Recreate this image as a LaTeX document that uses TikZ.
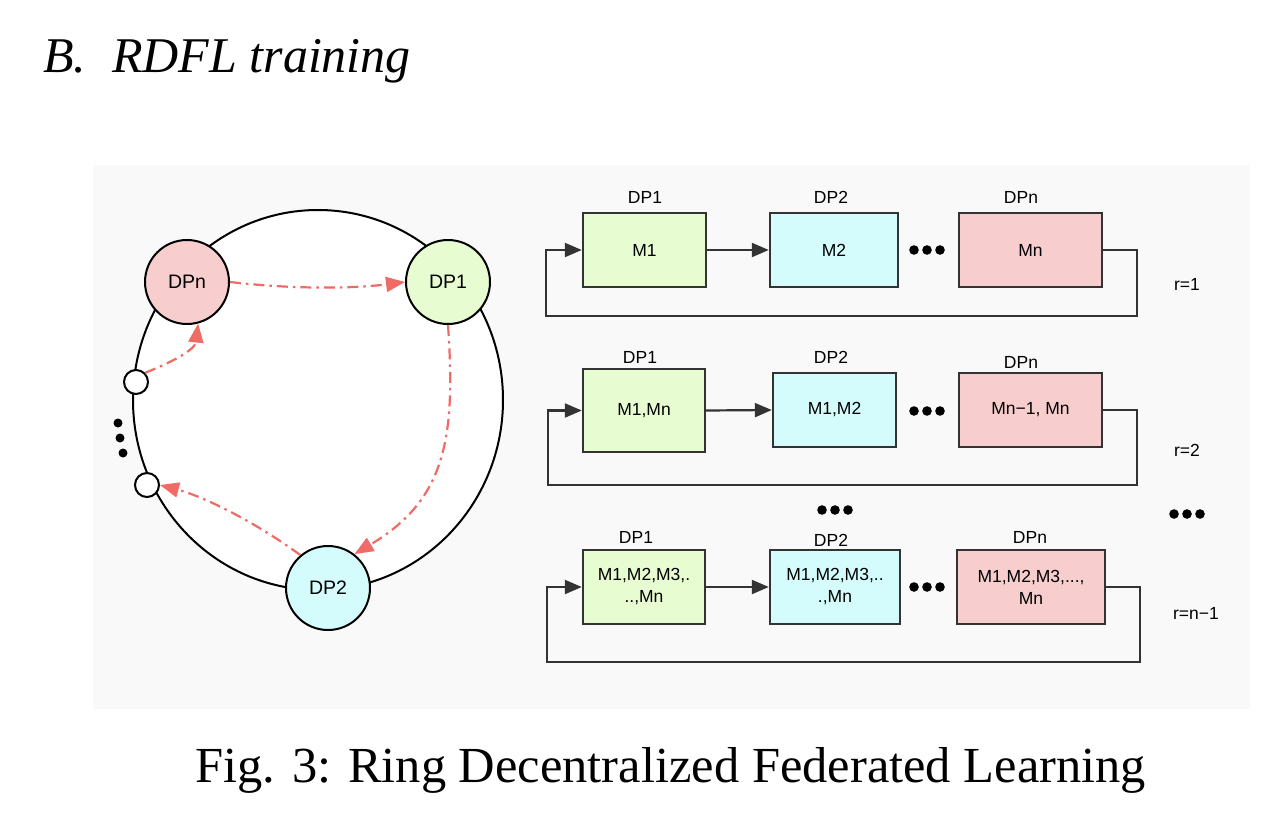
\documentclass[tikz,border=0pt]{standalone}
\usepackage{fontspec}
\setmainfont{Liberation Serif}
\newfontfamily\dsans{Liberation Sans}
\usetikzlibrary{arrows.meta}
\definecolor{panel}{HTML}{F9F9F9}
\definecolor{gfill}{HTML}{E8FCD2}
\definecolor{cfill}{HTML}{D5FCFC}
\definecolor{pfill}{HTML}{F7CDCD}
\definecolor{edge}{HTML}{333333}
\definecolor{redarr}{HTML}{EE6B66}
\begin{document}
\begin{tikzpicture}[x=1pt,y=-1pt,
  ringnode/.style={circle, draw=black, line width=2pt, minimum size=84pt, inner sep=0pt,
    font=\dsans\fontsize{19.5}{22}\selectfont},
  smallnode/.style={circle, draw=black, line width=2pt, minimum size=24pt, inner sep=0pt, fill=white},
  redflow/.style={draw=redarr, line width=2.2pt, dash pattern=on 11pt off 5pt on 2.5pt off 5pt,
    -{Triangle[length=19pt,width=15pt,fill=redarr]}},
  mbox/.style={rectangle, draw=edge, line width=2.4pt, inner sep=0pt, align=center,
    font=\dsans\fontsize{17.5}{22}\selectfont, minimum height=74pt},
  lbl/.style={font=\dsans\fontsize{17.5}{20}\selectfont, inner sep=0pt},
  conn/.style={draw=edge, line width=2.2pt, -{Triangle[length=17pt,width=14pt]}},
  dotfill/.style={fill=black}
]
\useasboundingbox (0,0) rectangle (1288,827);
\fill[panel] (93,165) rectangle (1250,709);

% title and caption
\node[anchor=base west, inner sep=0pt, font=\fontsize{50}{60}\selectfont\itshape] (ttla) at (43,72) {B.};
\node[anchor=base west, inner sep=0pt, font=\fontsize{50}{60}\selectfont\itshape] (ttlb) at (112,72) {RDFL training};
\node[anchor=base west, inner sep=0pt, font=\fontsize{50.5}{60}\selectfont] (cap) at (195,782) {Fig. 3: Ring Decentralized Federated Learning};

% ring
\draw[line width=2pt, fill=white] (318,400) ellipse [x radius=185pt, y radius=190pt];
\node[ringnode, fill=pfill] (pn) at (187,282) {DPn};
\node[ringnode, fill=gfill] (p1) at (448,282) {DP1};
\node[ringnode, fill=cfill] (p2) at (328,588) {DP2};
\node[smallnode] (s1) at (136,382) {};
\node[smallnode] (s2) at (147,485) {};
\fill[dotfill] (118,423) circle[radius=4.5pt];
\fill[dotfill] (120,438) circle[radius=4.5pt];
\fill[dotfill] (123,453) circle[radius=4.5pt];

\draw[redflow] (pn.east) .. controls (290,289) and (350,289) .. (p1.west);
\draw[redflow] (p1.south) .. controls (456,440) and (445,500) .. (p2.52);
\draw[redflow] (p2.130) .. controls (255,522) and (205,497) .. (s2.east);
\draw[redflow] (s1.north east) .. controls (172,362) and (195,350) .. (pn.285);

% row 1
\node[mbox, fill=gfill, minimum width=123pt] (a1) at (644.5,250) {M1};
\node[mbox, fill=cfill, minimum width=128pt] (b1) at (834,250) {M2};
\node[mbox, fill=pfill, minimum width=143pt] (c1) at (1030.5,250) {Mn};
\node[lbl] (la1) at (645,197) {DP1};
\node[lbl] (lb1) at (831,197) {DP2};
\node[lbl] (lc1) at (1021,197) {DPn};
\node[lbl] (r1) at (1187,284) {r=1};
\draw[conn] (a1.east) -- (b1.west);
\coordinate (r1R) at (1137,316);
\coordinate (r1L) at (546,316);
\draw[conn] (c1.east) -| (r1R) -- (r1L) |- (a1.west);
\fill[dotfill] (914,250) circle[radius=4.8pt];
\fill[dotfill] (927,250) circle[radius=4.8pt];
\fill[dotfill] (940,250) circle[radius=4.8pt];

% row 2
\node[mbox, fill=gfill, minimum width=122pt, minimum height=83pt] (a2) at (644,410.5) {M1,Mn};
\node[mbox, fill=cfill, minimum width=123pt] (b2) at (834.5,410) {M1,M2};
\node[mbox, fill=pfill, minimum width=143pt] (c2) at (1030.5,410) {Mn−1, Mn};
\node[lbl] (la2) at (640,357) {DP1};
\node[lbl] (lb2) at (831,357) {DP2};
\node[lbl] (lc2) at (1021,362) {DPn};
\node[lbl] (r2) at (1187,450) {r=2};
\draw[conn] (a2.east) -- (b2.west);
\coordinate (r2R) at (1137,485);
\coordinate (r2L) at (548,485);
\draw[conn] (c2.east) -| (r2R) -- (r2L) |- (a2.west);
\fill[dotfill] (914,411) circle[radius=4.8pt];
\fill[dotfill] (927,411) circle[radius=4.8pt];
\fill[dotfill] (940,411) circle[radius=4.8pt];

% vertical ellipsis between rows
\fill[dotfill] (822,510) circle[radius=4.8pt];
\fill[dotfill] (835,510) circle[radius=4.8pt];
\fill[dotfill] (848,510) circle[radius=4.8pt];
\fill[dotfill] (1174,514) circle[radius=4.8pt];
\fill[dotfill] (1187,514) circle[radius=4.8pt];
\fill[dotfill] (1200,514) circle[radius=4.8pt];

% row 3
\node[mbox, fill=gfill, minimum width=122pt] (a3) at (644,587) {M1,M2,M3,.\\..,Mn};
\node[mbox, fill=cfill, minimum width=130pt] (b3) at (835,587) {M1,M2,M3,..\\.,Mn};
\node[mbox, fill=pfill, minimum width=148pt] (c3) at (1031,587) {M1,M2,M3,...,\\Mn};
\node[lbl] (la3) at (636,537) {DP1};
\node[lbl] (lb3) at (831,540) {DP2};
\node[lbl] (lc3) at (1030,537) {DPn};
\node[lbl] (r3) at (1196,613) {r=n−1};
\draw[conn] (a3.east) -- (b3.west);
\coordinate (r3R) at (1140,662);
\coordinate (r3L) at (547,662);
\draw[conn] (c3.east) -| (r3R) -- (r3L) |- (a3.west);
\fill[dotfill] (914,587) circle[radius=4.8pt];
\fill[dotfill] (927,587) circle[radius=4.8pt];
\fill[dotfill] (940,587) circle[radius=4.8pt];
\end{tikzpicture}
\end{document}
